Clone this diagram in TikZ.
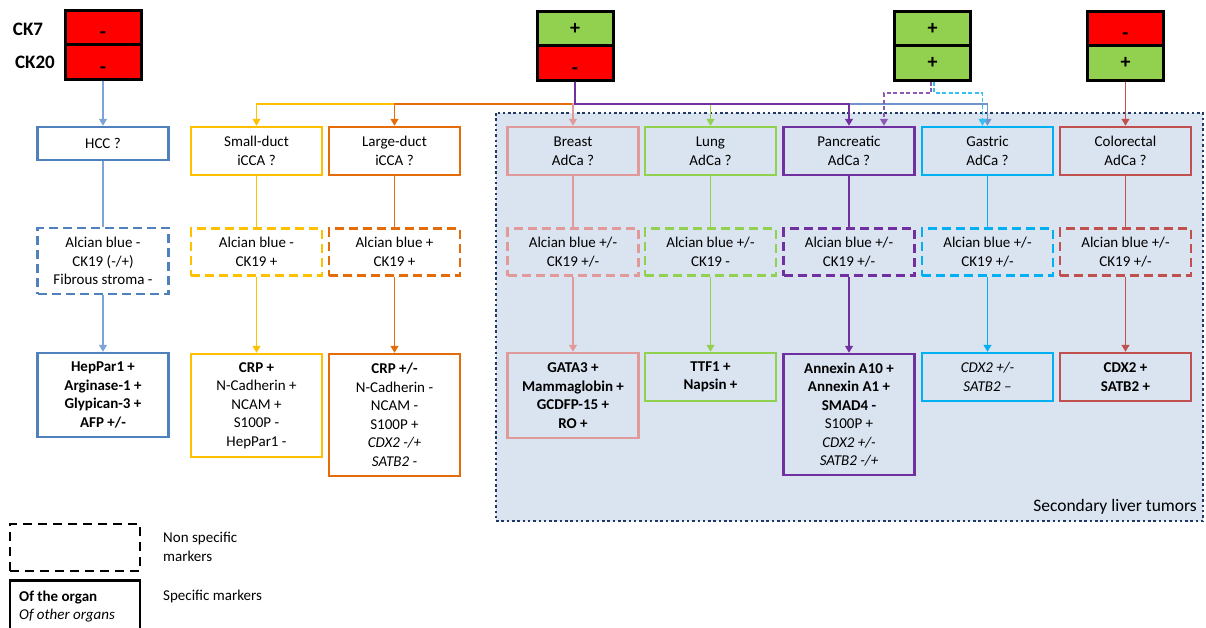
\documentclass[tikz,border=0pt]{standalone}
\usepackage{fontspec}
\setmainfont{Carlito}
\usetikzlibrary{arrows.meta}
\definecolor{cRed}{HTML}{FF0000}
\definecolor{cGreen}{HTML}{92D050}
\definecolor{cHcc}{HTML}{4F81BD}
\definecolor{cHccL}{HTML}{7EA3D6}
\definecolor{cSd}{HTML}{FFC000}
\definecolor{cLd}{HTML}{E46C0A}
\definecolor{cBr}{HTML}{E19A9A}
\definecolor{cLu}{HTML}{92D050}
\definecolor{cPa}{HTML}{7030A0}
\definecolor{cGa}{HTML}{00B0F0}
\definecolor{cCo}{HTML}{C0504D}
\definecolor{cSteel}{HTML}{6F95CC}
\definecolor{cSecBg}{HTML}{DAE3F0}
\definecolor{cNavy}{HTML}{1F3864}
\newcommand{\mkminus}{\raisebox{-5.5pt}{-}}
\begin{document}
\begin{tikzpicture}[x=1pt,y=-1pt,
  font=\fontsize{15}{18.5}\selectfont,
  mkbox/.style={draw=black, line width=3pt, minimum width=76pt, minimum height=34.5pt,
    inner sep=0pt, text height=14pt, text depth=2pt, font=\fontsize{20}{22}\selectfont\bfseries},
  cklabel/.style={font=\fontsize{19}{22}\selectfont\bfseries, inner sep=0pt},
  qbox/.style={draw, line width=2.5pt, minimum width=131pt, align=center, inner sep=0pt},
  nsbox/.style={qbox, dash pattern=on 9pt off 5pt},
  conn/.style={line width=1.3pt},
  dconn/.style={line width=1.3pt, dash pattern=on 4pt off 2.5pt},
  arr/.style={-{Triangle[width=8pt,length=7pt]}}
]
\useasboundingbox (0,0) rectangle (1206,627);
\clip (0,0) rectangle (1206,627);

% secondary tumours area
\fill[cSecBg] (496,113) rectangle (1203,521);
\draw[cNavy, line width=2.5pt, dash pattern=on 2.5pt off 2.8pt] (496,113) rectangle (1203,521);
\node[anchor=east, inner sep=0pt, font=\fontsize{17.5}{20}\selectfont] (sec) at (1197,507) {Secondary liver tumors};

% CK labels
\node[cklabel] (ck7) at (28,29) {CK7};
\node[cklabel] (ck20) at (35,62) {CK20};

% marker boxes
\node[mkbox, fill=cRed] (m1a) at (103,27.25) {\mkminus};
\node[mkbox, fill=cRed] (m1b) at (103,61.75) {\mkminus};
\node[mkbox, fill=cGreen] (m2a) at (575,28.25) {+};
\node[mkbox, fill=cRed] (m2b) at (575,62.75) {\mkminus};
\node[mkbox, fill=cGreen] (m3a) at (932.5,28.25) {+};
\node[mkbox, fill=cGreen] (m3b) at (932.5,62.75) {+};
\node[mkbox, fill=cRed] (m4a) at (1125.5,28.25) {\mkminus};
\node[mkbox, fill=cGreen] (m4b) at (1125.5,62.75) {+};

% row 1
\node[qbox, draw=cHcc, minimum height=33pt] (hcc) at (103,143.5) {HCC ?};
\node[qbox, draw=cSd, minimum height=48pt] (sd) at (256.5,151) {Small-duct\\iCCA ?};
\node[qbox, draw=cLd, minimum height=48pt] (ld) at (394.5,151) {Large-duct\\iCCA ?};
\node[qbox, draw=cBr, minimum height=48pt] (br) at (573,151) {Breast\\AdCa ?};
\node[qbox, draw=cLu, minimum height=48pt] (lu) at (710.5,151) {Lung\\AdCa ?};
\node[qbox, draw=cPa, minimum height=48pt] (pa) at (849,151) {Pancreatic\\AdCa ?};
\node[qbox, draw=cGa, minimum height=48pt] (ga) at (987.5,151) {Gastric\\AdCa ?};
\node[qbox, draw=cCo, minimum height=48pt] (co) at (1125.5,151) {Colorectal\\AdCa ?};

% row 2
\node[nsbox, draw=cHcc, minimum height=66pt] (hcc2) at (103,261) {Alcian blue -\\CK19 (-/+)\\Fibrous stroma -};
\node[nsbox, draw=cSd, minimum height=47pt] (sd2) at (256.5,252) {Alcian blue -\\CK19 +};
\node[nsbox, draw=cLd, minimum height=47pt] (ld2) at (394.5,252) {Alcian blue +\\CK19 +};
\node[nsbox, draw=cBr, minimum height=47pt] (br2) at (573,252) {Alcian blue +/-\\CK19 +/-};
\node[nsbox, draw=cLu, minimum height=47pt] (lu2) at (710.5,252) {Alcian blue +/-\\CK19 -};
\node[nsbox, draw=cPa, minimum height=47pt] (pa2) at (849,252) {Alcian blue +/-\\CK19 +/-};
\node[nsbox, draw=cGa, minimum height=47pt] (ga2) at (987.5,252) {Alcian blue +/-\\CK19 +/-};
\node[nsbox, draw=cCo, minimum height=47pt] (co2) at (1125.5,252) {Alcian blue +/-\\CK19 +/-};

% row 3
\node[qbox, draw=cHcc, minimum height=84pt] (hcc3) at (103,395) {\textbf{HepPar1 +}\\\textbf{Arginase-1 +}\\\textbf{Glypican-3 +}\\\textbf{AFP +/-}};
\node[qbox, draw=cSd, minimum height=103pt] (sd3) at (256.5,405.5) {\textbf{CRP +}\\N-Cadherin +\\NCAM +\\S100P -\\HepPar1 -};
\node[qbox, draw=cLd, minimum height=122pt] (ld3) at (394.5,415) {\textbf{CRP +/-}\\N-Cadherin -\\NCAM -\\S100P +\\\textit{CDX2 -/+}\\\textit{SATB2 -}};
\node[qbox, draw=cBr, minimum height=85pt] (br3) at (573,395.5) {\textbf{GATA3 +}\\\textbf{Mammaglobin +}\\\textbf{GCDFP-15 +}\\\textbf{RO +}};
\node[qbox, draw=cLu, minimum height=48pt] (lu3) at (710.5,377) {\textbf{TTF1 +}\\\textbf{Napsin +}};
\node[qbox, draw=cPa, minimum height=121pt] (pa3) at (849,414.5) {\textbf{Annexin A10 +}\\\textbf{Annexin A1 +}\\\textbf{SMAD4 -}\\S100P +\\\textit{CDX2 +/-}\\\textit{SATB2 -/+}};
\node[qbox, draw=cGa, minimum height=48pt] (ga3) at (987.5,377) {\textit{CDX2 +/-}\\\textit{SATB2 –}};
\node[qbox, draw=cCo, minimum height=48pt] (co3) at (1125.5,377) {\textbf{CDX2 +}\\\textbf{SATB2 +}};

% bus coordinates
\coordinate (bus) at (0,104);
\coordinate (bus2) at (0,93);

% connectors from markers
\draw[conn, arr, cHccL] (m1b.south) -- (hcc.north);
\draw[conn, arr, cSd] (m2b.south) -- (m2b.south |- bus) -| (sd.north);
\draw[conn, arr, cLd] (m2b.south) -- (m2b.south |- bus) -| (ld.north);
\draw[conn, arr, cBr] (m2b.south) -- (m2b.south |- bus) -| (br.north);
\draw[conn, arr, cLu] (m2b.south) -- (m2b.south |- bus) -| (lu.north);
\draw[conn, arr, cSteel] (m2b.south) -- (m2b.south |- bus) -| (ga.north);
\draw[conn, arr, cPa] (m2b.south) -- (m2b.south |- bus) -| (pa.north);
\draw[dconn, arr, cPa!80] ([xshift=-1.5pt]m3b.south) -- ([xshift=-1.5pt]m3b.south |- bus2) -| ([xshift=35pt]pa.north);
\draw[dconn, arr, cGa!80] ([xshift=1.5pt]m3b.south) -- ([xshift=1.5pt]m3b.south |- bus2) -| ([xshift=-5pt]ga.north);
\draw[conn, arr, cCo] (m4b.south) -- (co.north);

% row1 -> row2
\draw[conn, cHccL] (hcc.south) -- (hcc2.north);
\draw[conn, cSd] (sd.south) -- (sd2.north);
\draw[conn, cLd] (ld.south) -- (ld2.north);
\draw[conn, cBr] (br.south) -- (br2.north);
\draw[conn, cLu] (lu.south) -- (lu2.north);
\draw[conn, cPa] (pa.south) -- (pa2.north);
\draw[conn, cGa] (ga.south) -- (ga2.north);
\draw[conn, cCo] (co.south) -- (co2.north);

% row2 -> row3
\draw[conn, arr, cHccL] (hcc2.south) -- (hcc3.north);
\draw[conn, arr, cSd] (sd2.south) -- (sd3.north);
\draw[conn, arr, cLd] (ld2.south) -- (ld3.north);
\draw[conn, arr, cBr] (br2.south) -- (br3.north);
\draw[conn, arr, cLu] (lu2.south) -- (lu3.north);
\draw[conn, arr, cPa] (pa2.south) -- (pa3.north);
\draw[conn, arr, cGa] (ga2.south) -- (ga3.north);
\draw[conn, arr, cCo] (co2.south) -- (co3.north);

% legend
\node[draw=black, line width=2.5pt, dash pattern=on 9pt off 6pt, minimum width=130pt, minimum height=47pt, inner sep=0pt] (lg1) at (75,547.5) {};
\node[draw=black, line width=2.5pt, minimum width=130pt, minimum height=72pt, inner sep=0pt, anchor=north] (lg2) at (75,579) {};
\node[anchor=west, inner sep=0pt, font=\fontsize{15}{18.5}\selectfont\bfseries] (lgorg) at (19,597) {Of the organ};
\node[anchor=west, inner sep=0pt, font=\fontsize{15}{18.5}\selectfont\itshape] (lgoth) at (19,615.5) {Of other organs};
\node[anchor=west, inner sep=0pt, align=left] (lgns) at (163,547) {Non specific\\markers};
\node[anchor=west, inner sep=0pt] (lgsp) at (163,596) {Specific markers};
\end{tikzpicture}
\end{document}
